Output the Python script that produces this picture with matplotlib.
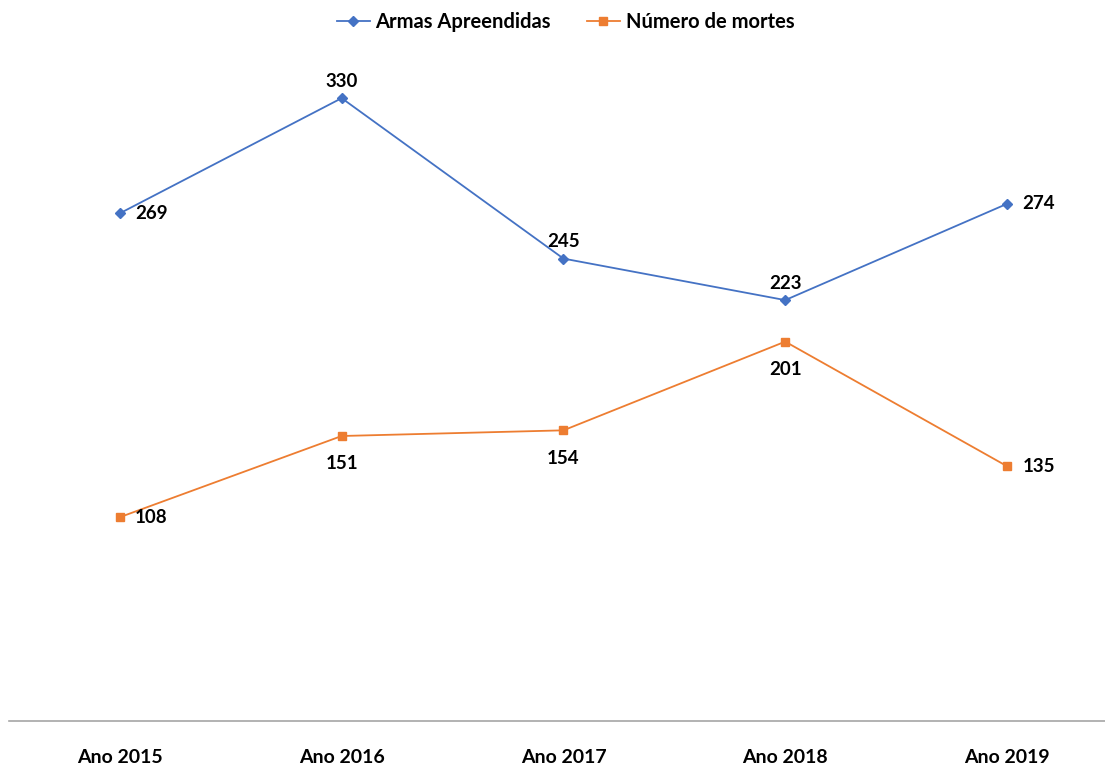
import matplotlib.pyplot as plt

categories = ['Ano 2015', 'Ano 2016', 'Ano 2017', 'Ano 2018', 'Ano 2019']
armas = [269, 330, 245, 223, 274]
mortes = [108, 151, 154, 201, 135]

# label placement per point: 'right', 'above', 'below'
armas_pos = ['right', 'above', 'above', 'above', 'right']
mortes_pos = ['right', 'below', 'below', 'below', 'right']

blue = '#4472C4'
orange = '#ED7D31'
plt.rcParams['font.family'] = ['Lato', 'DejaVu Sans']

W, H = 1105, 764
fig = plt.figure(figsize=(W / 100, H / 100), dpi=100)
ax = fig.add_axes([9 / W, (H - 721) / H, (W - 9) / W, (721 - 60.4) / H])

x = list(range(len(categories)))
ax.plot(x, armas, color=blue, lw=1.3, marker='D', ms=5, label='Armas Apreendidas')
ax.plot(x, mortes, color=orange, lw=1.3, marker='s', ms=6, label='Número de mortes')

def put_labels(vals, pos):
    for i, (v, p) in enumerate(zip(vals, pos)):
        if p == 'right':
            ax.annotate(str(v), (i, v), xytext=(11, 0), textcoords='offset points',
                        ha='left', va='center', fontsize=13.5, fontweight='bold')
        elif p == 'above':
            ax.annotate(str(v), (i, v), xytext=(0, 6), textcoords='offset points',
                        ha='center', va='bottom', fontsize=13.5, fontweight='bold')
        else:
            ax.annotate(str(v), (i, v), xytext=(0, -14), textcoords='offset points',
                        ha='center', va='top', fontsize=13.5, fontweight='bold')

put_labels(armas, armas_pos)
put_labels(mortes, mortes_pos)

ax.set_xlim(-0.5, 4 + (W - 1007) / 221.75)
ax.set_ylim(0, 350)
ax.set_yticks([])
ax.set_xticks(x)
ax.set_xticklabels(categories, fontsize=14, fontweight='bold')
ax.tick_params(axis='x', length=0, pad=20)
for s in ['top', 'right', 'left']:
    ax.spines[s].set_visible(False)
ax.spines['bottom'].set_color('#A6A6A6')
ax.spines['bottom'].set_linewidth(1.2)

leg = fig.legend(loc='center', bbox_to_anchor=(0.512, 1 - 22 / H), ncol=2, frameon=False,
                 prop={'size': 14.5, 'weight': 'bold'}, handlelength=1.6, columnspacing=1.8,
                 handletextpad=0.3)

fig.savefig('out.png', dpi=100)
